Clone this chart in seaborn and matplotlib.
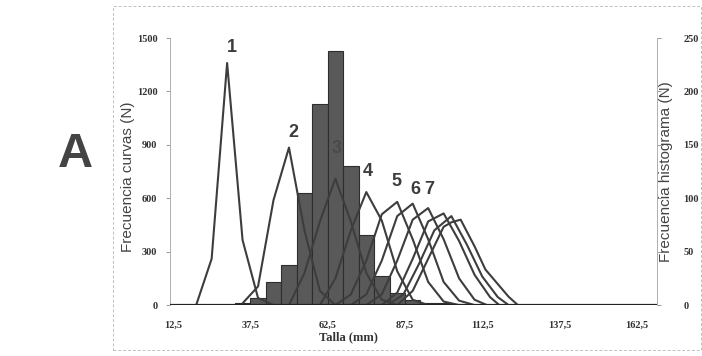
import numpy as np
import pandas as pd
import matplotlib.pyplot as plt
import matplotlib.patches as patches
import seaborn as sns

# Histogram (right axis): 5 mm size classes, counts
hist_talla = [35, 40, 45, 50, 55, 60, 65, 70, 75, 80, 85, 90, 95, 100, 105]
hist_n = [2, 7, 22, 38, 105, 188, 238, 130, 66, 27, 11, 5, 2, 2, 1]

# Cohort curves (left axis)
c1_x = [20, 25, 30, 35, 40, 45]
c1_y = [0, 260, 1360, 365, 40, 0]
c2_x = [35, 40, 45, 50, 55, 60, 65]
c2_y = [10, 105, 590, 885, 420, 80, 0]
c3_x = [50, 55, 60, 65, 70, 75, 80, 85]
c3_y = [0, 180, 470, 710, 470, 180, 30, 0]
c4_x = [60, 65, 70, 75, 80, 85, 90, 95]
c4_y = [0, 150, 420, 635, 475, 190, 30, 0]
c5_x = [65, 70, 75, 80, 85, 90, 95, 100, 105]
c5_y = [0, 60, 250, 510, 580, 370, 130, 20, 0]
c6_x = [70, 75, 80, 85, 90, 95, 100, 105, 110]
c6_y = [0, 60, 250, 500, 570, 370, 130, 25, 0]
c7_x = [75, 80, 85, 90, 95, 100, 105, 110, 114]
c7_y = [0, 60, 250, 480, 545, 370, 150, 30, 0]
c8_x = [80, 85, 90, 95, 100, 105, 110, 115, 118]
c8_y = [0, 70, 260, 470, 515, 360, 170, 45, 0]
c9_x = [82, 87, 92, 97, 102.5, 107.5, 112.5, 117.5, 121]
c9_y = [0, 60, 230, 420, 500, 340, 160, 45, 0]
c10_x = [85, 90, 95, 100, 102.5, 105.5, 110, 113.5, 121, 124]
c10_y = [0, 80, 260, 440, 465, 480, 330, 200, 47, 0]

curves_x = [c1_x, c2_x, c3_x, c4_x, c5_x, c6_x, c7_x, c8_x, c9_x, c10_x]
curves_y = [c1_y, c2_y, c3_y, c4_y, c5_y, c6_y, c7_y, c8_y, c9_y, c10_y]

# Curve number labels: text, x (mm), y (N)
lab_text = ['1', '2', '3', '4', '5', '6', '7']
lab_x = [31.7, 51.4, 65.3, 75.4, 84.6, 90.8, 95.2]
lab_y = [1445, 972, 880, 750, 695, 648, 648]

x_ticks = [12.5, 37.5, 62.5, 87.5, 112.5, 137.5, 162.5]
x_ticklabels = ['12,5', '37,5', '62,5', '87,5', '112,5', '137,5', '162,5']
yl_ticks = [0, 300, 600, 900, 1200, 1500]
yr_ticks = [0, 50, 100, 150, 200, 250]

sns.set_style('white')
plt.rcParams['font.family'] = ['Liberation Sans', 'DejaVu Sans']

dark = '#3d3d3d'
serif = 'Liberation Serif'

fig = plt.figure(figsize=(7.02, 3.56), dpi=100)
ax = fig.add_axes([0.242, 0.143, 0.694, 0.750])
ax2 = ax.twinx()

# histogram on the right axis, behind the curves
hist_df = pd.DataFrame({'talla': hist_talla, 'n': hist_n})
edges = [float(e) for e in np.arange(32.5, 110, 5)]
sns.histplot(data=hist_df, x='talla', weights='n', bins=edges, ax=ax2,
             color='#595959', edgecolor='#2e2e2e', linewidth=0.8, alpha=1)
ax2.set_ylim(0, 250)
ax2.set_yticks(yr_ticks)

ax.set_zorder(ax2.get_zorder() + 1)
ax.patch.set_visible(False)

for cx, cy in zip(curves_x, curves_y):
    sns.lineplot(x=cx, y=cy, ax=ax, color=dark, linewidth=1.5)
ax.axhline(0, color='#222222', linewidth=1.6, zorder=3)

for t, tx, ty in zip(lab_text, lab_x, lab_y):
    # label 3 sits inside the dark bars and is barely visible
    ax.text(tx, ty, t, ha='center', va='center', fontsize=13,
            fontweight='bold', color='#4a4a4a' if t == '3' else dark,
            zorder=1 if t == '3' else 4)

ax.set_xlim(11.5, 169)
ax.set_ylim(0, 1500)
ax.set_xticks(x_ticks)
ax.set_xticklabels(x_ticklabels)
ax.set_yticks(yl_ticks)

for a in (ax, ax2):
    a.spines['top'].set_visible(False)
    a.spines['bottom'].set_visible(False)
    for s in ['left', 'right']:
        a.spines[s].set_color('#b0b0b0')
        a.spines[s].set_linestyle((0, (2, 1)))
        a.spines[s].set_linewidth(0.7)
    a.tick_params(axis='both', length=3, width=0.6, color='#888888',
                  labelsize=7.5, labelcolor='#333333', pad=6)
    for lbl in a.get_xticklabels() + a.get_yticklabels():
        lbl.set_fontfamily(serif)
        lbl.set_fontweight('bold')
ax.tick_params(axis='x', pad=8)
ax2.tick_params(axis='y', pad=16)

ax.set_ylabel('Frecuencia curvas (N)', fontsize=11, color='#444444')
ax.yaxis.set_label_coords(-0.072, 0.48)
ax2.set_ylabel('Frecuencia histograma (N)', fontsize=11, color='#444444')
ax2.yaxis.set_label_coords(1.004, 0.50)
ax.set_xlabel('')
fig.text(0.497, 0.053, 'Talla (mm)', ha='center', va='center', fontsize=9,
         fontweight='bold', family=serif, color='#333333')

fig.text(0.107, 0.565, 'A', ha='center', va='center', fontsize=35,
         fontweight='bold', color='#444444')

fig.patches.append(patches.Rectangle((113 / 702, 6 / 356), 588 / 702, 344 / 356,
                                     transform=fig.transFigure, fill=False,
                                     edgecolor='#c0c0c0', linewidth=0.7,
                                     linestyle=(0, (3, 2))))

fig.savefig('out.png', dpi=100)
